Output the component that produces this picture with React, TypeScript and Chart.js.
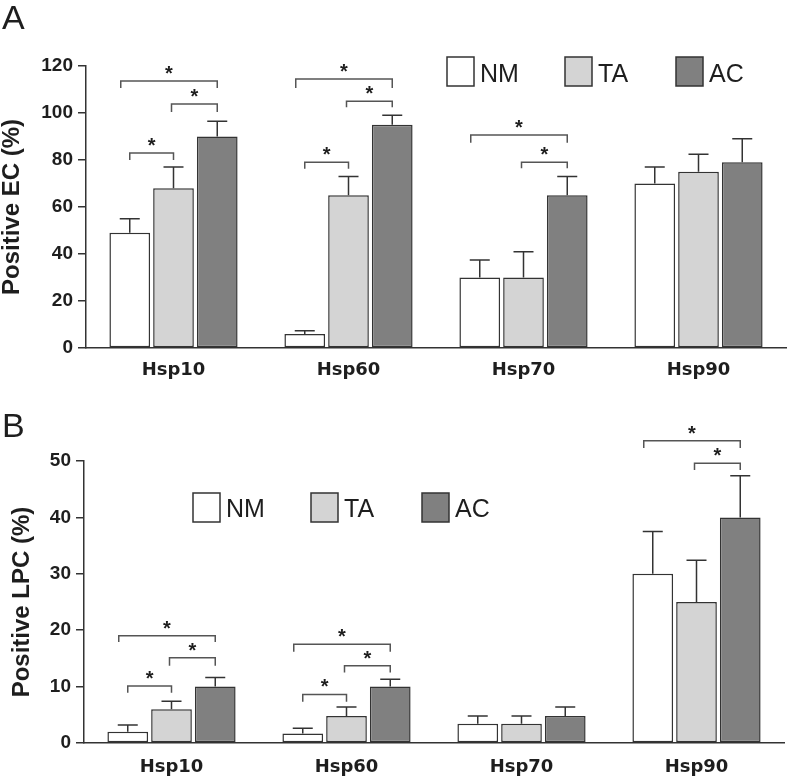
import React, { useEffect, useRef } from "react";
import { Chart, registerables } from "chart.js";
Chart.register(...registerables);

const categories = ["Hsp10", "Hsp60", "Hsp70", "Hsp90"];
const groups = ["NM", "TA", "AC"];
const groupColors = ["#ffffff", "#d4d4d4", "#808080"];

// Panel A: Positive EC (%)
const ecNM = [49, 6, 30, 70];
const ecTA = [68, 65, 30, 75];
const ecAC = [90, 95, 65, 79];
const ecNMErr = [6, 1.3, 7.5, 7];
const ecTAErr = [9, 8, 11, 7.5];
const ecACErr = [6.5, 4, 8, 10];
const ecTicks = [0, 20, 40, 60, 80, 100, 120];
// [category, from group, to group, bracket value, leg end value]
const ecBrackets = [
  [0, 0, 2, 113.6, 110.6],
  [0, 1, 2, 103.8, 100.4],
  [0, 0, 1, 83, 80],
  [1, 0, 2, 114.5, 110.6],
  [1, 1, 2, 105, 102.5],
  [1, 0, 1, 79, 76.3],
  [2, 0, 2, 90.6, 87.3],
  [2, 1, 2, 79, 76.5],
];

// Panel B: Positive LPC (%)
const lpcNM = [2, 1.7, 3.4, 30];
const lpcTA = [6, 4.8, 3.4, 25];
const lpcAC = [10, 10, 4.8, 40];
const lpcNMErr = [1.2, 0.9, 1.4, 7.5];
const lpcTAErr = [1.4, 1.6, 1.4, 7.4];
const lpcACErr = [1.6, 1.3, 1.6, 7.4];
const lpcTicks = [0, 10, 20, 30, 40, 50];
const lpcBrackets = [
  [0, 0, 2, 19.0, 17.9],
  [0, 1, 2, 15.1, 13.7],
  [0, 0, 1, 10.1, 8.9],
  [1, 0, 2, 17.5, 16.2],
  [1, 1, 2, 13.7, 12.5],
  [1, 0, 1, 8.6, 7.3],
  [3, 0, 2, 53.6, 52.3],
  [3, 1, 2, 49.6, 48.4],
];

const SANS = "'Liberation Sans', Arial, sans-serif";
const INK = "#1e1e1e";

const annotPlugin = {
  id: "annot",
  afterDatasetsDraw(chart: any, _args: any, opts: any) {
    const ctx = chart.ctx;
    const ys = chart.scales.y;
    ctx.save();
    // error bars (upper)
    chart.data.datasets.forEach((ds: any, di: number) => {
      const meta = chart.getDatasetMeta(di);
      meta.data.forEach((bar: any, i: number) => {
        const v = ds.data[i];
        const e = opts.errors[di][i];
        const top = ys.getPixelForValue(v + e);
        ctx.strokeStyle = "#333";
        ctx.lineWidth = 1.5;
        ctx.beginPath();
        ctx.moveTo(bar.x, bar.y);
        ctx.lineTo(bar.x, top);
        ctx.moveTo(bar.x - 10, top);
        ctx.lineTo(bar.x + 10, top);
        ctx.stroke();
      });
    });
    // significance brackets
    opts.brackets.forEach((b: number[]) => {
      const [cat, g1, g2, val, leg] = b;
      const e1 = chart.getDatasetMeta(g1).data[cat];
      const e2 = chart.getDatasetMeta(g2).data[cat];
      let x1 = e1.x;
      const x2 = e2.x;
      if (g1 === 0 && g2 === 2) x1 -= 9;
      if (g1 === 1 && g2 === 2) x1 -= 2;
      const yt = ys.getPixelForValue(val);
      const yl = ys.getPixelForValue(leg);
      ctx.strokeStyle = "#555";
      ctx.lineWidth = 1.5;
      ctx.beginPath();
      ctx.moveTo(x1, yl);
      ctx.lineTo(x1, yt);
      ctx.lineTo(x2, yt);
      ctx.lineTo(x2, yl);
      ctx.stroke();
      ctx.fillStyle = INK;
      ctx.font = `bold 20px ${SANS}`;
      ctx.textAlign = "center";
      ctx.textBaseline = "alphabetic";
      ctx.fillText("*", (x1 + x2) / 2, yt - 1);
    });
    // legend
    const lg = opts.legend;
    chart.data.datasets.forEach((ds: any, di: number) => {
      const bx = lg.x[di];
      ctx.fillStyle = ds.backgroundColor;
      ctx.fillRect(bx, lg.y, 27, 29);
      ctx.strokeStyle = "#333";
      ctx.lineWidth = 1.5;
      ctx.strokeRect(bx, lg.y, 27, 29);
      ctx.fillStyle = INK;
      ctx.font = `25px ${SANS}`;
      ctx.textAlign = "left";
      ctx.textBaseline = "alphabetic";
      ctx.fillText(ds.label, bx + 33, lg.baseline);
    });
    // panel letter
    ctx.fillStyle = INK;
    ctx.font = `34px ${SANS}`;
    ctx.textAlign = "left";
    ctx.textBaseline = "alphabetic";
    ctx.fillText(opts.letter, 2, opts.letterY);
    ctx.restore();
  },
};

function makeConfig(p: any) {
  return {
    type: "bar",
    data: {
      labels: categories,
      datasets: p.values.map((vals: number[], i: number) => ({
        label: groups[i],
        data: vals,
        backgroundColor: groupColors[i],
        borderColor: "#333",
        borderWidth: 1.5,
        borderSkipped: false,
        categoryPercentage: 0.75,
        barPercentage: 0.93,
      })),
    },
    options: {
      responsive: false,
      animation: false,
      layout: { padding: { top: p.top, right: p.right, left: 0, bottom: 0 } },
      plugins: {
        legend: { display: false },
        tooltip: { enabled: false },
        annot: {
          errors: p.errors,
          brackets: p.brackets,
          legend: p.legend,
          letter: p.letter,
          letterY: p.letterY,
        },
      },
      scales: {
        x: {
          afterFit: (s: any) => {
            s.height = p.xHeight;
          },
          grid: { display: true, drawOnChartArea: false, drawTicks: false },
          border: { display: true, color: "#333", width: 1.5 },
          ticks: {
            color: INK,
            padding: p.xPad,
            font: { family: "'DejaVu Sans', sans-serif", weight: "bold", size: 18 },
          },
        },
        y: {
          min: 0,
          max: p.ticks[p.ticks.length - 1],
          afterFit: (s: any) => {
            s.width = p.yWidth;
          },
          afterBuildTicks: (s: any) => {
            s.ticks = p.ticks.map((v: number) => ({ value: v }));
          },
          grid: {
            display: true,
            drawOnChartArea: false,
            drawTicks: true,
            tickLength: 8,
            color: "#333",
            lineWidth: 1.5,
          },
          border: { display: true, color: "#333", width: 1.5 },
          ticks: {
            color: INK,
            padding: 5,
            font: { family: SANS, weight: "bold", size: 19 },
          },
          title: {
            display: true,
            text: p.yTitle,
            color: INK,
            padding: { top: p.titlePad, bottom: 0 },
            font: { family: SANS, weight: "bold", size: 24, lineHeight: 1 },
          },
        },
      },
    },
    plugins: [annotPlugin],
  };
}

const panelA = {
  values: [ecNM, ecTA, ecAC],
  errors: [ecNMErr, ecTAErr, ecACErr],
  brackets: ecBrackets,
  ticks: ecTicks,
  yTitle: "Positive EC (%)",
  top: 66,
  right: 2,
  xHeight: 37,
  xPad: 12,
  yWidth: 86,
  titlePad: 0,
  legend: { x: [447, 565, 676], y: 57, baseline: 82 },
  letter: "A",
  letterY: 29,
};

const panelB = {
  values: [lpcNM, lpcTA, lpcAC],
  errors: [lpcNMErr, lpcTAErr, lpcACErr],
  brackets: lpcBrackets,
  ticks: lpcTicks,
  yTitle: "Positive LPC (%)",
  top: 76,
  right: 4,
  xHeight: 35,
  xPad: 14,
  yWidth: 84,
  titlePad: 10,
  legend: { x: [193, 311, 422], y: 108, baseline: 132 },
  letter: "B",
  letterY: 52,
};

function Panel({ cfg, height }: { cfg: any; height: number }) {
  const ref = useRef<HTMLCanvasElement | null>(null);
  useEffect(() => {
    if (!ref.current) return;
    const chart = new Chart(ref.current, makeConfig(cfg) as any);
    return () => chart.destroy();
  }, [cfg]);
  return <canvas ref={ref} width={788} height={height} style={{ display: "block" }} />;
}

export default function App() {
  return (
    <div style={{ position: "absolute", left: 0, top: 0, width: 788, height: 778, background: "#fff" }}>
      <Panel cfg={panelA} height={385} />
      <Panel cfg={panelB} height={393} />
    </div>
  );
}
